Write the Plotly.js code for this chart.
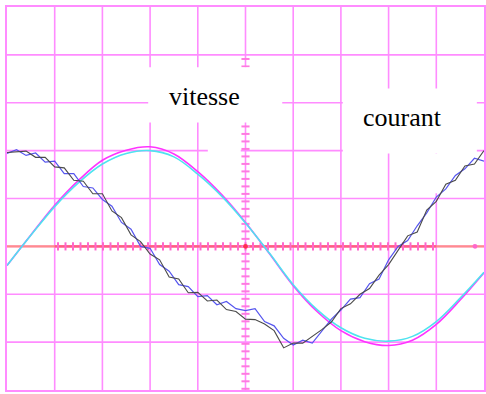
<!DOCTYPE html>
<html>
<head>
<meta charset="utf-8">
<script src="https://cdn.plot.ly/plotly-3.0.1.min.js"></script>
<style>html,body{margin:0;padding:0;background:#fff;}#chart{width:486px;height:394px;}</style>
</head>
<body>
<div id="chart"></div>
<script>
// Horizontal positions in screen divisions
const xVitesse = [0,0.5,1,1.5,2,2.5,3,3.5,4,4.5,5,5.5,6,6.5,7,7.5,8,8.5,9,9.5,10];
const vitesseMagenta = [-0.40,0.24,0.86,1.38,1.80,2.01,2.08,1.93,1.56,1.08,0.50,-0.15,-0.82,-1.36,-1.76,-1.99,-2.07,-1.96,-1.63,-1.12,-0.55];
const vitesseCyan = [-0.40,0.23,0.83,1.33,1.72,1.94,2.00,1.87,1.51,1.05,0.49,-0.14,-0.80,-1.32,-1.70,-1.92,-1.98,-1.88,-1.57,-1.08,-0.54];

const xCourant = [0,0.2,0.4,0.6,0.8,1,1.2,1.4,1.6,1.8,2,2.2,2.4,2.6,2.8,3,3.2,3.4,3.6,3.8,4,4.2,4.4,4.6,4.8,5,5.2,5.4,5.6,5.8,6,6.2,6.4,6.6,6.8,7,7.2,7.4,7.6,7.8,8,8.2,8.4,8.6,8.8,9,9.2,9.4,9.6,9.8,10];
const courantBlue = [1.94,2.02,1.90,1.95,1.76,1.78,1.52,1.52,1.25,1.22,0.98,0.84,0.50,0.36,0.00,-0.04,-0.38,-0.52,-0.80,-0.84,-1.05,-1.03,-1.22,-1.15,-1.30,-1.34,-1.30,-1.57,-1.66,-1.92,-2.06,-1.96,-2.02,-1.76,-1.52,-1.33,-1.10,-1.07,-0.78,-0.68,-0.28,0.00,0.12,0.43,0.70,1.03,1.20,1.48,1.62,1.84,1.78];
const courantBlack = [1.96,1.97,1.99,1.86,1.86,1.66,1.64,1.38,1.36,1.10,1.10,0.74,0.60,0.24,0.10,-0.16,-0.28,-0.64,-0.68,-0.97,-0.96,-1.14,-1.12,-1.32,-1.36,-1.52,-1.53,-1.62,-1.76,-2.12,-2.02,-2.02,-1.88,-1.74,-1.58,-1.30,-1.20,-1.00,-0.88,-0.60,-0.38,-0.07,0.22,0.30,0.76,0.94,1.30,1.38,1.68,1.72,2.00];

const labels = ["vitesse", "courant"];

const YMIN = -3, YMAX = 5;
const GRID = '#ff8cff';
const shapes = [];
// grid
for (let i = 1; i <= 9; i++) {
  shapes.push({type:'line', xref:'x', yref:'y', x0:i, x1:i, y0:YMIN, y1:YMAX, line:{color:GRID, width:1.6}, layer:'below'});
}
for (let j = YMIN + 1; j <= YMAX - 1; j++) {
  shapes.push({type:'line', xref:'x', yref:'y', x0:0, x1:10, y0:j, y1:j, line:{color:GRID, width:1.6}, layer:'below'});
}
// center horizontal line
shapes.push({type:'line', xref:'x', yref:'y', x0:0, x1:10, y0:0, y1:0, line:{color:'#ff8c8c', width:2.2}, layer:'below'});
shapes.push({type:'line', xref:'x', yref:'y', x0:1, x1:9, y0:0, y1:0, line:{color:'#ff5a86', width:2.2}, layer:'below'});
// ticks on center lines
const tstepX = 7.5/47.7, tstepY = 7.5/47.9;
for (let k = -26; k <= 26; k++) {
  const x = 5 + k*tstepX;
  if (x < 1 - 1e-6 || x > 9 + 1e-6) continue;
  shapes.push({type:'line', xref:'x', yref:'y', x0:x, x1:x, y0:-0.085, y1:0.085, line:{color:'#ff66cc', width:2}, layer:'below'});
}
for (let k = -26; k <= 26; k++) {
  const y = k*tstepY;
  if (y < YMIN || y > 4.02) continue;
  shapes.push({type:'line', xref:'x', yref:'y', x0:4.915, x1:5.085, y0:y, y1:y, line:{color:'#ff7ae0', width:2}, layer:'below'});
}
// dots
shapes.push({type:'circle', xref:'x', yref:'y', x0:4.95, x1:5.05, y0:-0.05, y1:0.05, fillcolor:'#ff3050', line:{width:0}, layer:'below'});
shapes.push({type:'circle', xref:'x', yref:'y', x0:9.76, x1:9.86, y0:-0.05, y1:0.05, fillcolor:'#ff66cc', line:{width:0}, layer:'below'});
// white label boxes
const white = (x0,x1,y0,y1) => shapes.push({type:'rect', xref:'x', yref:'y', x0, x1, y0, y1, fillcolor:'#ffffff', line:{width:0}, layer:'below'});
white(2.96, 5.77, 2.59, 3.74);
white(4.21, 4.90, 1.86, 2.15);
white(7.04, 9.85, 1.94, 3.30);
white(8.20, 9.85, 1.11, 1.94);

const traces = [
  {x:xVitesse, y:vitesseMagenta, mode:'lines', line:{color:'#ff33ff', width:1.6, shape:'spline'}, hoverinfo:'skip'},
  {x:xVitesse, y:vitesseCyan, mode:'lines', line:{color:'#4fe3ef', width:1.6, shape:'spline'}, hoverinfo:'skip'},
  {x:xCourant, y:courantBlue, mode:'lines', line:{color:'#5555ee', width:1.2}, hoverinfo:'skip'},
  {x:xCourant, y:courantBlack, mode:'lines', line:{color:'#4a4a4a', width:1.1}, hoverinfo:'skip'}
];

const axisCommon = {showgrid:false, zeroline:false, showticklabels:false, ticks:'', showline:true, mirror:true, linecolor:GRID, linewidth:1.6, fixedrange:true};
const layout = {
  width:486, height:394,
  margin:{l:7, r:2, t:7, b:4, pad:0},
  paper_bgcolor:'#ffffff', plot_bgcolor:'#ffffff',
  showlegend:false,
  xaxis:Object.assign({range:[0,10]}, axisCommon),
  yaxis:Object.assign({range:[YMIN,YMAX]}, axisCommon),
  shapes:shapes,
  annotations:[
    {text:labels[0], xref:'x', yref:'y', x:4.13, y:3.13, showarrow:false, font:{family:'Liberation Serif, Times New Roman, serif', size:26, color:'#000'}},
    {text:labels[1], xref:'x', yref:'y', x:8.30, y:2.69, showarrow:false, font:{family:'Liberation Serif, Times New Roman, serif', size:26, color:'#000'}}
  ]
};

Plotly.newPlot('chart', traces, layout, {staticPlot:true, displayModeBar:false});
</script>
</body>
</html>
